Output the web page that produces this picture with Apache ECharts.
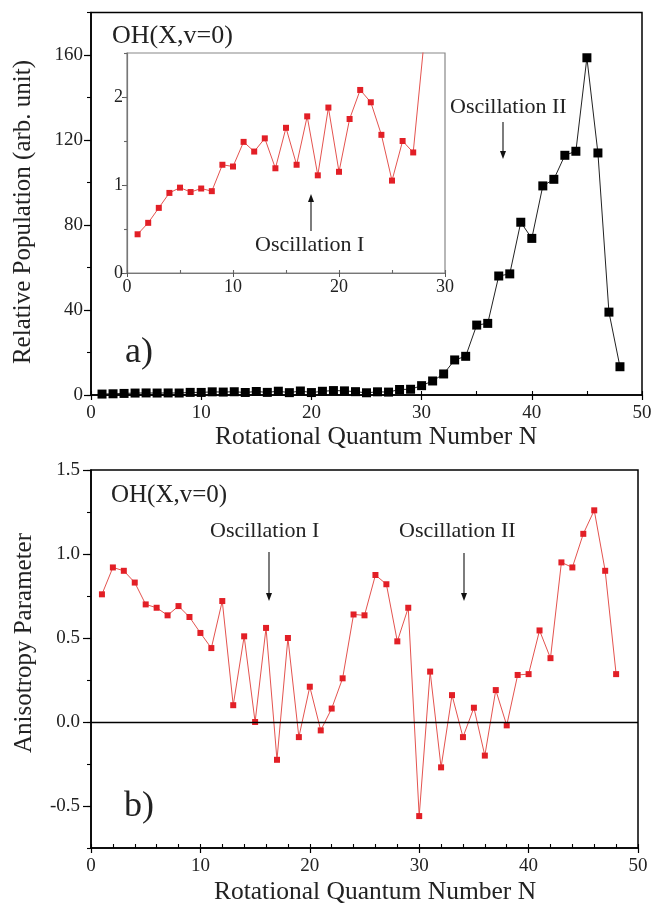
<!DOCTYPE html>
<html><head><meta charset="utf-8">
<script src="https://cdn.jsdelivr.net/npm/echarts@6/dist/echarts.min.js"></script>
<style>html,body{margin:0;padding:0;background:#fff}#c{width:655px;height:909px}</style>
</head><body><div id="c"></div>
<script>
// Rotational quantum number N
const rotN = [1,2,3,4,5,6,7,8,9,10,11,12,13,14,15,16,17,18,19,20,21,22,23,24,25,26,27,28,29,30,31,32,33,34,35,36,37,38,39,40,41,42,43,44,45,46,47,48];
// a) relative population (arb. unit)
const population = [0.44,0.57,0.74,0.91,0.97,0.92,0.96,0.93,1.23,1.21,1.49,1.38,1.53,1.19,1.65,1.23,1.78,1.11,1.88,1.15,1.75,2.08,1.94,1.57,1.05,1.50,1.37,2.6,2.7,4.4,6.6,9.9,16.5,18.2,32.9,33.7,56,57,81.3,73.7,98.4,101.5,112.8,114.7,158.7,113.9,39,13.3];
// b) anisotropy parameter
const anisotropy = [0.76,0.92,0.90,0.83,0.70,0.68,0.635,0.69,0.625,0.53,0.44,0.72,0.10,0.51,0.0,0.56,-0.225,0.50,-0.09,0.21,-0.05,0.08,0.26,0.64,0.635,0.875,0.82,0.48,0.68,-0.56,0.30,-0.27,0.16,-0.09,0.085,-0.20,0.19,-0.02,0.28,0.285,0.545,0.38,0.95,0.92,1.12,1.26,0.90,0.285];
// tick label values
const xTicks = [0,10,20,30,40,50];
const popTicks = [0,40,80,120,160];
const insetXTicks = [0,10,20,30];
const insetYTicks = [0,1,2];
const aniTicks = [-0.5,0,0.5,1,1.5];

const FONT = '"Liberation Serif","Times New Roman",serif';
const TXT = '#222';
const zip = (xs, ys) => xs.map((x,i)=>[x, ys[i]]);

function majorAxis(opt){
  return Object.assign({
    type:'value', splitLine:{show:false},
    axisLine:{show:true, onZero:false, lineStyle:{color:'#000', width:1.5}},
    axisTick:{show:true, inside:false, length:opt.tick||6, lineStyle:{color:'#000', width:1.2}, customValues: opt.ticks},
    axisLabel:{show:true, color:TXT, fontFamily:FONT, fontSize:opt.fs||19, margin:opt.margin||6, customValues: opt.ticks, formatter: opt.fmt},
  }, opt.extra);
}
function minorAxis(opt){
  return Object.assign({
    type:'value', splitLine:{show:false},
    axisLine:{show:false, onZero:false},
    axisLabel:{show:false},
    axisTick:{show:true, inside:opt.inside, length:opt.len||4, lineStyle:{color:opt.color||'#000', width:1.1}},
  }, opt.extra);
}

const chart = echarts.init(document.getElementById('c'), null, {renderer:'canvas'});
const option = {
  animation:false,
  backgroundColor:'#fff',
  grid:[
    {left:91, top:12.5, width:551, height:382.5, show:true, borderColor:'#000', borderWidth:1.5, backgroundColor:'transparent'},
    {left:127, top:53, width:318, height:220, show:true, borderColor:'#888', borderWidth:1.2, backgroundColor:'#fff'},
    {left:91, top:470, width:547, height:378, show:true, borderColor:'#000', borderWidth:1.5, backgroundColor:'transparent'}
  ],
  xAxis:[
    majorAxis({ticks:xTicks, tick:5, margin:9, extra:{gridIndex:0, min:0, max:50, position:'bottom'}}),
    minorAxis({inside:true, len:4, extra:{gridIndex:0, min:0, max:50, interval:5, position:'bottom'}}),
    majorAxis({ticks:insetXTicks, fs:18, margin:5, extra:{gridIndex:1, min:0, max:30, position:'bottom',
      axisLine:{show:true, onZero:false, lineStyle:{color:'#777', width:1.2}},
      axisTick:{show:true, inside:false, length:4, lineStyle:{color:'#555', width:1}, customValues:insetXTicks}}}),
    minorAxis({inside:true, len:3, color:'#666', extra:{gridIndex:1, min:0, max:30, interval:5, position:'bottom'}}),
    majorAxis({ticks:xTicks, tick:5, margin:9, extra:{gridIndex:2, min:0, max:50, position:'bottom'}}),
    minorAxis({inside:true, len:4, extra:{gridIndex:2, min:0, max:50, interval:2, position:'bottom'}})
  ],
  yAxis:[
    majorAxis({ticks:popTicks, tick:7, margin:8, extra:{gridIndex:0, min:0, max:180, position:'left'}}),
    minorAxis({inside:false, len:4, extra:{gridIndex:0, min:0, max:180, interval:20, position:'left'}}),
    majorAxis({ticks:insetYTicks, fs:18, margin:4, extra:{gridIndex:1, min:0, max:2.5, position:'left',
      axisLine:{show:true, onZero:false, lineStyle:{color:'#777', width:1.2}},
      axisTick:{show:true, inside:false, length:5, lineStyle:{color:'#555', width:1}, customValues:insetYTicks}}}),
    minorAxis({inside:false, len:3, color:'#666', extra:{gridIndex:1, min:0, max:2.5, interval:0.5, position:'left'}}),
    majorAxis({ticks:aniTicks, tick:8, margin:11, fmt:(v)=>v.toFixed(1), extra:{gridIndex:2, min:-0.75, max:1.5, position:'left'}}),
    minorAxis({inside:false, len:4, extra:{gridIndex:2, min:-0.75, max:1.5, interval:0.25, position:'left'}})
  ],
  series:[
    {type:'line', xAxisIndex:0, yAxisIndex:0, data:zip(rotN, population), symbol:'rect', symbolSize:9,
     itemStyle:{color:'#000'}, lineStyle:{color:'#222', width:1}, z:3},
    {type:'line', xAxisIndex:2, yAxisIndex:2, data:zip(rotN, population), symbol:'rect', symbolSize:6, clip:true,
     itemStyle:{color:'#e21f26'}, lineStyle:{color:'#e4534f', width:1}, z:5},
    {type:'line', xAxisIndex:4, yAxisIndex:4, data:zip(rotN, anisotropy), symbol:'rect', symbolSize:6,
     itemStyle:{color:'#e21f26'}, lineStyle:{color:'#e4534f', width:1}, z:3,
     markLine:{silent:true, symbol:['none','none'], label:{show:false}, lineStyle:{color:'#000', width:1.4, type:'solid'},
       data:[{yAxis:0}]}}
  ]
};
chart.setOption(option);

function txt(t, x, y, fs, align){
  return {type:'text', z:100, style:{text:t, x:x, y:y, font:fs+'px '+FONT, fill:TXT, align:align||'left', verticalAlign:'middle'}};
}
function vtxt(t, x, y, fs){
  return {type:'text', z:100, x:x, y:y, rotation:Math.PI/2,
    style:{text:t, x:0, y:0, font:fs+'px '+FONT, fill:TXT, align:'center', verticalAlign:'middle'}};
}
function arrow(x, y1, y2){
  const dir = y2 > y1 ? 1 : -1;
  return [
    {type:'line', z:100, shape:{x1:x, y1:y1, x2:x, y2:y2 - dir*6}, style:{stroke:'#111', lineWidth:1.1}},
    {type:'polygon', z:100, shape:{points:[[x-3, y2 - dir*8],[x+3, y2 - dir*8],[x, y2]]}, style:{fill:'#111'}}
  ];
}
chart.setOption({graphic:[
  vtxt('Relative Population (arb. unit)', 23, 212, 25),
  vtxt('Anisotropy Parameter', 24, 643, 25),
  txt('Rotational Quantum Number N', 376, 437, 25.5, 'center'),
  txt('Rotational Quantum Number N', 375, 892, 25.5, 'center'),
  txt('OH(X,v=0)', 112, 36, 26),
  txt('a)', 125, 353, 36),
  txt('Oscillation II', 450, 107, 22),
  txt('Oscillation I', 255, 245, 22),
  txt('OH(X,v=0)', 111, 495, 25),
  txt('Oscillation I', 210, 531, 22),
  txt('Oscillation II', 399, 531, 22),
  txt('b)', 124, 807, 36),
  ...arrow(503, 122, 159),
  ...arrow(311, 231, 194),
  ...arrow(269, 552, 601),
  ...arrow(464, 553, 601)
]});
</script></body></html>
